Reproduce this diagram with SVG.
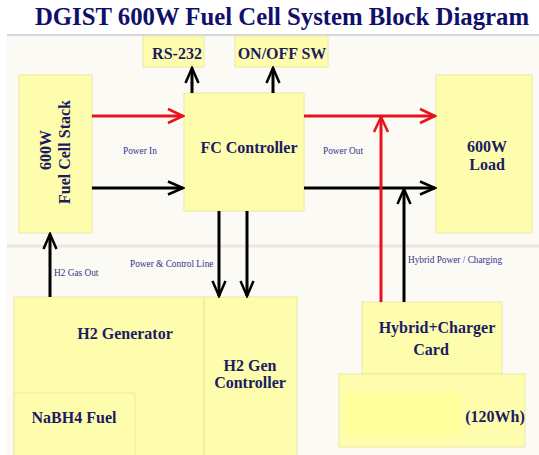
<svg xmlns="http://www.w3.org/2000/svg" width="539" height="455" viewBox="0 0 539 455">
<defs>
<style>
.box{fill:#fefdae;stroke:#ece8a0;stroke-width:1}
.inner{fill:#ffff9c;stroke:none}
.t{font-family:"Liberation Serif","Times New Roman",serif;font-weight:bold;font-size:16px;fill:#1b1b62;text-anchor:middle}
.lbl{font-family:"Liberation Serif","Times New Roman",serif;font-size:9.3px;fill:#33338a}
.red{stroke:#e8121c;stroke-width:3;fill:none}
.blk{stroke:#000;stroke-width:3;fill:none}
</style>
<marker id="ar" viewBox="-18 -9 20 18" markerWidth="20" markerHeight="18" refX="0" refY="0" orient="auto" markerUnits="userSpaceOnUse">
<path d="M-15,-7 L0,0 L-15,7" fill="none" stroke="#e8121c" stroke-width="2.5"/>
</marker>
<marker id="ab" viewBox="-18 -9 20 18" markerWidth="20" markerHeight="18" refX="0" refY="0" orient="auto" markerUnits="userSpaceOnUse">
<path d="M-15,-6.5 L0,0 L-15,6.5" fill="none" stroke="#000" stroke-width="2.5"/>
</marker>
</defs>
<rect x="0" y="0" width="539" height="455" fill="#ffffff"/>
<rect x="7" y="35" width="532" height="420" fill="#fcfaf5"/>
<line x1="7" y1="35" x2="539" y2="35" stroke="#c9c9d6" stroke-width="1.5"/>
<line x1="7" y1="246" x2="539" y2="246" stroke="#ebe7df" stroke-width="3"/>
<text x="35" y="25" font-family="'Liberation Serif','Times New Roman',serif" font-weight="bold" font-size="25" fill="#10106a" textLength="494" lengthAdjust="spacingAndGlyphs">DGIST 600W Fuel Cell System Block Diagram</text>

<g id="rs232"><rect class="box" x="143" y="36" width="61" height="31"/><text class="t" x="177" y="59">RS-232</text></g>
<g id="onoff"><rect class="box" x="235" y="36" width="93" height="31"/><text class="t" x="282" y="59">ON/OFF SW</text></g>
<g id="fcstack"><rect class="box" x="19" y="75" width="73" height="158"/>
<text class="t" font-size="19.5" transform="translate(51,150) rotate(-90)">600W</text>
<text class="t" font-size="19.5" transform="translate(70,152) rotate(-90)">Fuel Cell Stack</text></g>
<g id="fcctrl"><rect class="box" x="184" y="93" width="120" height="118"/><text class="t" x="249" y="153">FC Controller</text></g>
<g id="load"><rect class="box" x="436" y="75" width="96" height="158"/><text class="t" x="487" y="152">600W</text><text class="t" x="487" y="170">Load</text></g>
<g id="h2gen"><rect class="box" x="14" y="297" width="190" height="160"/><text class="t" x="125" y="339">H2 Generator</text></g>
<g id="nabh4"><rect class="box" x="14" y="393" width="121" height="64"/><text class="t" x="74" y="423">NaBH4 Fuel</text></g>
<g id="h2ctrl"><rect class="box" x="204" y="297" width="93" height="160"/><text class="t" x="250" y="371">H2 Gen</text><text class="t" x="250" y="388">Controller</text></g>
<g id="hybrid"><rect class="box" x="362" y="302" width="140" height="72"/><text class="t" x="437" y="333">Hybrid+Charger</text><text class="t" x="431" y="355">Card</text></g>
<g id="battery"><rect class="box" x="339" y="374" width="186" height="73"/><rect class="inner" x="345" y="393" width="116" height="43"/><text class="t" x="495" y="422">(120Wh)</text></g>

<g id="connectors">
<line class="red" x1="92" y1="116" x2="183" y2="116" marker-end="url(#ar)"/>
<line class="blk" x1="92" y1="188" x2="183" y2="188" marker-end="url(#ab)"/>
<line class="red" x1="304" y1="116" x2="435" y2="116" marker-end="url(#ar)"/>
<line class="blk" x1="304" y1="188" x2="435" y2="188" marker-end="url(#ab)"/>
<line class="red" x1="381" y1="302" x2="381" y2="117" marker-end="url(#ar)"/>
<line class="blk" x1="404" y1="302" x2="404" y2="189" marker-end="url(#ab)"/>
<line class="blk" x1="192" y1="93" x2="192" y2="68" marker-end="url(#ab)"/>
<line class="blk" x1="273" y1="93" x2="273" y2="68" marker-end="url(#ab)"/>
<line class="blk" x1="219" y1="211" x2="219" y2="296" marker-end="url(#ab)"/>
<line class="blk" x1="247" y1="211" x2="247" y2="296" marker-end="url(#ab)"/>
<line class="blk" x1="50" y1="297" x2="50" y2="234" marker-end="url(#ab)"/>
<text class="lbl" x="123" y="154">Power In</text>
<text class="lbl" x="323" y="154">Power Out</text>
<text class="lbl" x="54" y="276">H2 Gas Out</text>
<text class="lbl" x="130" y="267">Power &amp; Control Line</text>
<text class="lbl" x="408" y="263">Hybrid Power / Charging</text>
</g>
</svg>
